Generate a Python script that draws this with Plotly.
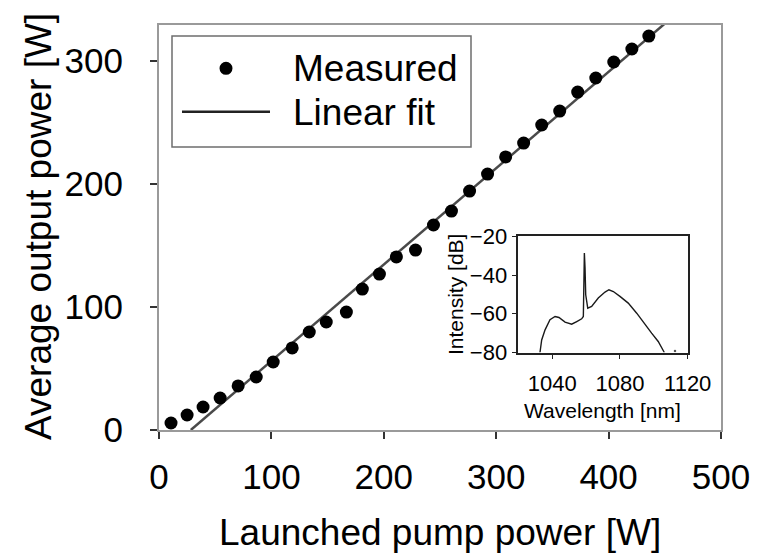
import plotly.graph_objects as go

# ---- data ----
pump_w = [10.7, 25.0, 39.2, 54.4, 70.4, 86.5, 101.6, 118.5, 133.7, 148.8, 166.7, 180.9,
          196.1, 211.2, 228.2, 244.2, 260.2, 276.3, 292.3, 308.4, 324.4, 340.5, 356.5,
          372.5, 388.6, 404.6, 420.7, 435.8]
output_w = [5.7, 12.2, 18.7, 26.0, 35.8, 43.1, 55.3, 66.7, 79.7, 87.8, 95.9, 114.6,
            126.8, 140.7, 146.3, 166.7, 178.0, 194.3, 208.1, 222.0, 233.3, 248.0, 259.3,
            274.8, 286.2, 299.2, 309.8, 320.3]
fit_x = [28.3, 452.0]
fit_y = [0.0, 332.0]

wl_nm = [1032.8, 1033.8, 1035.8, 1038.7, 1041.7, 1044.0, 1047.6, 1051.5, 1054.5, 1057.4,
         1058.4, 1058.6, 1059.0, 1059.4, 1059.8, 1061.0, 1063.3, 1067.2, 1071.2, 1073.5,
         1076.1, 1080.0, 1084.9, 1089.9, 1094.8, 1098.7, 1102.6, 1105.0, 1106.2]
inten_db = [-80.0, -73.5, -68.3, -63.1, -61.4, -61.9, -64.3, -65.4, -64.0, -62.6,
            -61.4, -50.2, -28.6, -36.4, -50.2, -57.1, -56.2, -51.9, -48.8, -47.6,
            -48.5, -51.0, -54.5, -59.7, -65.7, -70.0, -74.3, -77.8, -80.0]
stray_nm = [1112.5]
stray_db = [-79.2]

x_ticks = [0, 100, 200, 300, 400, 500]
y_ticks = [0, 100, 200, 300]
ix_ticks = [1040, 1080, 1120]
iy_ticks = [-80, -60, -40, -20]

FONT = "Liberation Sans, Arial, sans-serif"

# ---- geometry (pixels) ----
W, H = 767, 554
L, R, T, B = 159, 721, 25, 430
pw, ph = R - L, B - T


def px(x):
    return (x - L) / pw


def py(y):
    return (B - y) / ph


fig = go.Figure()
fig.add_trace(go.Scatter(x=fit_x, y=fit_y, mode="lines",
                         line=dict(color="#4a4a4a", width=2.5),
                         name="Linear fit", showlegend=False))
fig.add_trace(go.Scatter(x=pump_w, y=output_w, mode="markers",
                         marker=dict(color="black", size=13),
                         name="Measured", showlegend=False))
fig.add_trace(go.Scatter(x=wl_nm, y=inten_db, mode="lines",
                         line=dict(color="#1a1a1a", width=1.4),
                         xaxis="x2", yaxis="y2", showlegend=False))
fig.add_trace(go.Scatter(x=stray_nm, y=stray_db, mode="markers",
                         marker=dict(color="#555", size=2.5),
                         xaxis="x2", yaxis="y2", showlegend=False))

axis_common = dict(showgrid=False, zeroline=False, ticks="outside",
                   mirror=True, showline=True)

fig.update_layout(
    width=W, height=H,
    margin=dict(l=L, r=W - R, t=T, b=H - B),
    paper_bgcolor="white", plot_bgcolor="white",
    font=dict(family=FONT, color="black"),
    showlegend=False,
    xaxis=dict(range=[0, 500], tickvals=x_ticks, linecolor="#9a9a9a", linewidth=2,
               tickcolor="#333", ticklen=7, tickwidth=1.5,
               tickfont=dict(size=35), ticklabelstandoff=8, **axis_common),
    yaxis=dict(range=[0, 329.3], tickvals=y_ticks, linecolor="#9a9a9a", linewidth=2,
               tickcolor="#333", ticklen=7, tickwidth=1.5,
               tickfont=dict(size=35), ticklabelstandoff=20, **axis_common),
    xaxis2=dict(domain=[px(518.3), px(687.7)], anchor="y2", range=[1020, 1120],
                tickvals=ix_ticks, linecolor="#222", linewidth=1.5,
                tickcolor="#222", ticklen=5, tickfont=dict(size=22),
                ticklabelstandoff=5, **axis_common),
    yaxis2=dict(domain=[py(352.5), py(236.3)], anchor="x2", range=[-80, -20],
                tickvals=iy_ticks, linecolor="#222", linewidth=1.5,
                tickcolor="#222", ticklen=5, tickfont=dict(size=22),
                ticklabelstandoff=0, **axis_common),
)

shapes = [
    # inset background
    dict(type="rect", xref="paper", yref="paper", x0=px(518.3), x1=px(687.7),
         y0=py(352.5), y1=py(236.3), fillcolor="white", line=dict(width=0), layer="below"),
    # legend box
    dict(type="rect", xref="paper", yref="paper", x0=px(172), x1=px(471),
         y0=py(147), y1=py(36), line=dict(color="#6e6e6e", width=1.5)),
    dict(type="circle", xref="paper", yref="paper", x0=px(219.5), x1=px(232.5),
         y0=py(74.8), y1=py(61.8), fillcolor="black", line=dict(color="black", width=0)),
    dict(type="line", xref="paper", yref="paper", x0=px(182), x1=px(270),
         y0=py(111.7), y1=py(111.7), line=dict(color="#222", width=2.5)),
]
fig.update_layout(shapes=shapes)

ann = [
    dict(text="Measured", x=px(291), y=py(68), xanchor="left", yanchor="middle",
         font=dict(size=37)),
    dict(text="Linear fit", x=px(291), y=py(112.5), xanchor="left", yanchor="middle",
         font=dict(size=37)),
    dict(text="Launched pump power [W]", x=px(440), y=py(532), xanchor="center",
         yanchor="middle", font=dict(size=37)),
    dict(text="Average output power [W]", x=px(38), y=py(227), xanchor="center",
         yanchor="middle", textangle=-90, font=dict(size=37)),
    dict(text="Wavelength [nm]", x=px(602), y=py(410), xanchor="center",
         yanchor="middle", font=dict(size=21)),
    dict(text="Intensity [dB]", x=px(455), y=py(295), xanchor="center",
         yanchor="middle", textangle=-90, font=dict(size=21)),
]
for a in ann:
    a.update(xref="paper", yref="paper", showarrow=False)
fig.update_layout(annotations=ann)

fig.write_html("out.html")
